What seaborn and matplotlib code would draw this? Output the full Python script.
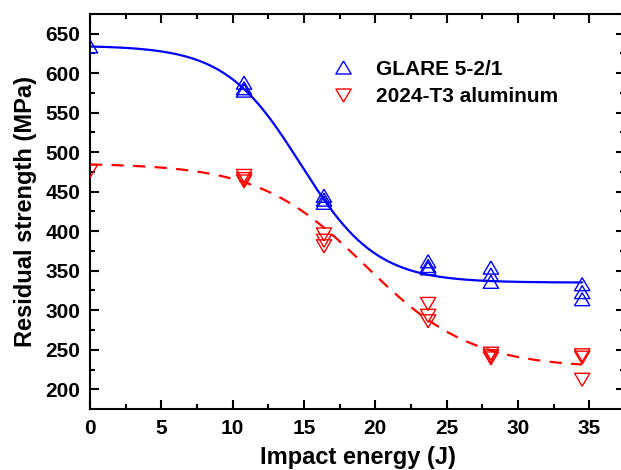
import numpy as np
import pandas as pd
import matplotlib
matplotlib.use("Agg")
import matplotlib.pyplot as plt
from matplotlib.lines import Line2D
import seaborn as sns

# Residual strength after impact, repeated specimens per energy level
glare_energy = [0.0, 10.8, 10.8, 10.8, 16.4, 16.4, 16.4, 23.7, 23.7, 23.7,
                28.1, 28.1, 28.1, 34.5, 34.5, 34.5]
glare_strength = [634, 588, 581, 578, 445, 440, 436, 362, 356, 353,
                  354, 345, 336, 333, 323, 314]

al_energy = [0.0, 10.8, 10.8, 10.8, 16.4, 16.4, 16.4, 23.7, 23.7, 23.7,
             28.1, 28.1, 28.1, 34.5, 34.5, 34.5]
al_strength = [476, 470, 466, 463, 396, 388, 381, 308, 293, 286,
               245, 242, 239, 243, 240, 212]

# Boltzmann sigmoid fit parameters (A1, A2, x0, dx)
glare_fit = (635.0, 335.0, 14.76, 2.65)
al_fit = (486.0, 227.0, 19.3, 3.72)

labels = ["GLARE 5-2/1", "2024-T3 aluminum"]
colors = ["#0000ff", "#ff0000"]


def boltzmann(x, a1, a2, x0, dx):
    return a2 + (a1 - a2) / (1.0 + np.exp((x - x0) / dx))


sns.set_style("ticks")
plt.rcParams["font.family"] = ["Liberation Sans", "DejaVu Sans"]
plt.rcParams["font.weight"] = "bold"
plt.rcParams["axes.labelweight"] = "bold"
for key in ["text.color", "axes.labelcolor", "xtick.color", "ytick.color",
            "axes.edgecolor"]:
    plt.rcParams[key] = "black"

fig = plt.figure(figsize=(6.21, 4.70), dpi=100)
ax = fig.add_axes([90 / 621, 1 - 409 / 470, 535 / 621, 395 / 470])

up = [(0, 0.85), (-1, -0.85), (1, -0.85), (0, 0.85)]
down = [(0, -0.85), (-1, 0.85), (1, 0.85), (0, -0.85)]
ms = 11

fits = pd.DataFrame({"x": np.linspace(0, 34.5, 300)})
fits["glare"] = boltzmann(fits["x"], *glare_fit)
fits["al"] = boltzmann(fits["x"], *al_fit)

sns.lineplot(data=fits, x="x", y="glare", ax=ax, color=colors[0], lw=1.6)
sns.lineplot(data=fits, x="x", y="al", ax=ax, color=colors[1], lw=1.6,
             dashes=False)
ax.lines[-1].set_dashes((5.5, 4.2))

sns.scatterplot(x=glare_energy, y=glare_strength, ax=ax, marker=up, s=ms ** 2,
                facecolors="none", edgecolor=colors[0], linewidth=1.0, zorder=3)
sns.scatterplot(x=al_energy, y=al_strength, ax=ax, marker=down, s=ms ** 2,
                facecolors="none", edgecolor=colors[1], linewidth=1.0, zorder=3)

ax.set_xlim(0, 37.5)
ax.set_ylim(175, 675)
ax.set_xticks(np.arange(0, 36, 5))
ax.set_xticks(np.arange(2.5, 37.5, 5), minor=True)
ax.set_yticks(np.arange(200, 651, 50))
ax.set_yticks(np.arange(225, 676, 50), minor=True)

ax.tick_params(which="both", direction="in", top=True, right=True, width=1.5,
               labelsize=15, pad=7, colors="black")
ax.tick_params(which="major", length=6.5)
ax.tick_params(which="minor", length=3.6)
for s in ax.spines.values():
    s.set_linewidth(1.5)
    s.set_color("black")

ax.set_xlabel("Impact energy (J)", fontsize=17, fontweight="bold", labelpad=6,
              color="black")
ax.set_ylabel("Residual strength (MPa)", fontsize=17, fontweight="bold",
              labelpad=6, color="black")

handles = [
    Line2D([], [], ls="none", marker=up, ms=ms, mfc="none", mec=colors[0], mew=1.0),
    Line2D([], [], ls="none", marker=down, ms=ms, mfc="none", mec=colors[1], mew=1.0),
]
leg = ax.legend(handles, labels, loc="upper left", bbox_to_anchor=(0.408, 0.932),
                frameon=False, fontsize=15, handletextpad=0.85, labelspacing=0.42,
                handlelength=1.5)
for t in leg.get_texts():
    t.set_color("black")

fig.savefig("out.png", dpi=100)
